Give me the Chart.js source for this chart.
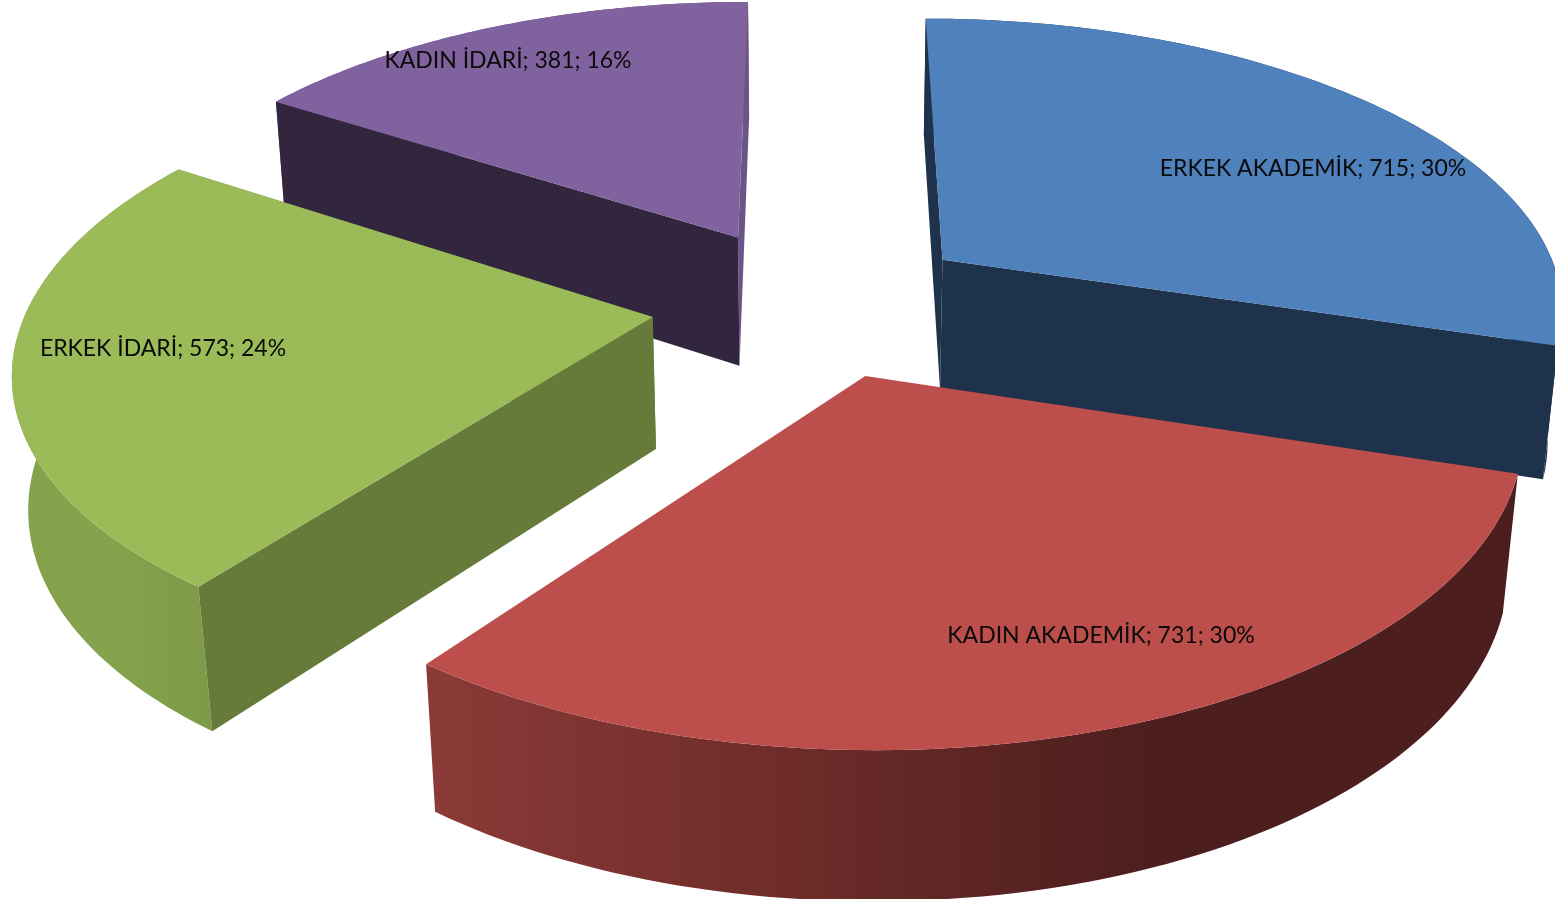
<!DOCTYPE html>
<html>
<head>
<meta charset="utf-8">
<title>Personel dağılımı</title>
<script src="https://cdn.jsdelivr.net/npm/chart.js@4"></script>
<style>
    html, body { margin: 0; padding: 0; background: #fff; overflow: hidden; }
    canvas { display: block; }
</style>
</head>
<body>
<canvas id="pie3d" width="1555" height="899"></canvas>
<script>
const categories = ['ERKEK AKADEMİK', 'KADIN AKADEMİK', 'ERKEK İDARİ', 'KADIN İDARİ'];
const counts = [715, 731, 573, 381];

const topColors = ['#4f81bd', '#bc4e4b', '#9bbb59', '#80629e'];
const wallColors = ['#1f324c', null, '#667b3a', '#32263f'];
const endWallColors = ['#1f324c', null, '#667b3a', '#6b5488'];
const rimStops = [
    ['#1f324c', '#1f324c'],
    ['#8b3a37', '#6d2c2a', '#4c1e1d', '#4c1e1d'],
    ['#84a14b', '#85a24c', '#7e9a48'],
    ['#6b5488', '#6b5488']
];
const sliceOffsets = [103, 100, 104, 106];
const labelSpots = [[1313, 169], [1101, 636], [163, 349], [508, 61]];
const drawOrder = [3, 2, 0, 1];

// camera used to lay the flat pie on its side
const view = { cx: 815, cy: 303.5, rx: 624, ry: 291, persp: 0.155, drop: 0.02, depth: 134 };

function project(a, b, h) {
    const w = 1 - view.persp * b + view.drop * h;
    return [view.cx + a * view.rx / w, view.cy + (b * view.ry + h * view.depth) / w];
}

function tracePoly(ctx, pts) {
    ctx.beginPath();
    pts.forEach((p, i) => i ? ctx.lineTo(p[0], p[1]) : ctx.moveTo(p[0], p[1]));
    ctx.closePath();
}

function rimPoints(arc, h) {
    const e = arc.options.offset / arc.outerRadius;
    const mid = (arc.startAngle + arc.endAngle) / 2;
    const a0 = e * Math.cos(mid), b0 = e * Math.sin(mid);
    const pts = [];
    for (let i = 0; i <= 80; i++) {
        const t = arc.startAngle + (arc.endAngle - arc.startAngle) * i / 80;
        pts.push(project(a0 + Math.cos(t), b0 + Math.sin(t), h));
    }
    return { pts, apex: project(a0, b0, h) };
}

const pie3d = {
    id: 'pie3d',
    beforeDatasetsDraw(chart) {
        const ctx = chart.ctx;
        const arcs = chart.getDatasetMeta(0).data;

        drawOrder.forEach(i => {
            const up = rimPoints(arcs[i], 0);
            const down = rimPoints(arcs[i], 1);
            const last = up.pts.length - 1;

            // outer wall
            const xs = up.pts.concat(down.pts).map(p => p[0]);
            const grad = ctx.createLinearGradient(Math.min(...xs), 0, Math.max(...xs), 0);
            rimStops[i].forEach((c, k) => grad.addColorStop(k / (rimStops[i].length - 1), c));
            tracePoly(ctx, up.pts.concat(down.pts.slice().reverse()));
            ctx.fillStyle = grad;
            ctx.fill();

            // cut faces, the front slice has none showing
            if (endWallColors[i]) {
                tracePoly(ctx, [up.apex, up.pts[last], down.pts[last], down.apex]);
                ctx.fillStyle = endWallColors[i];
                ctx.fill();
            }
            if (wallColors[i]) {
                tracePoly(ctx, [up.apex, up.pts[0], down.pts[0], down.apex]);
                ctx.fillStyle = wallColors[i];
                ctx.fill();
            }

            // top
            tracePoly(ctx, [up.apex].concat(up.pts));
            ctx.fillStyle = topColors[i];
            ctx.fill();
        });

        const total = counts.reduce((s, v) => s + v, 0);
        ctx.font = '23px Lato';
        ctx.fillStyle = '#0a0a0a';
        ctx.textAlign = 'center';
        ctx.textBaseline = 'middle';
        categories.forEach((name, i) => {
            const pct = Math.round(counts[i] / total * 100);
            ctx.fillText(`${name}; ${counts[i]}; ${pct}%`, labelSpots[i][0], labelSpots[i][1]);
        });
        return false;
    }
};

new Chart(document.getElementById('pie3d').getContext('2d'), {
    type: 'pie',
    data: {
        labels: categories,
        datasets: [{ data: counts, backgroundColor: topColors, borderWidth: 0, offset: sliceOffsets }]
    },
    options: {
        responsive: false,
        animation: false,
        plugins: { legend: { display: false }, tooltip: { enabled: false } }
    },
    plugins: [pie3d]
});
</script>
</body>
</html>
